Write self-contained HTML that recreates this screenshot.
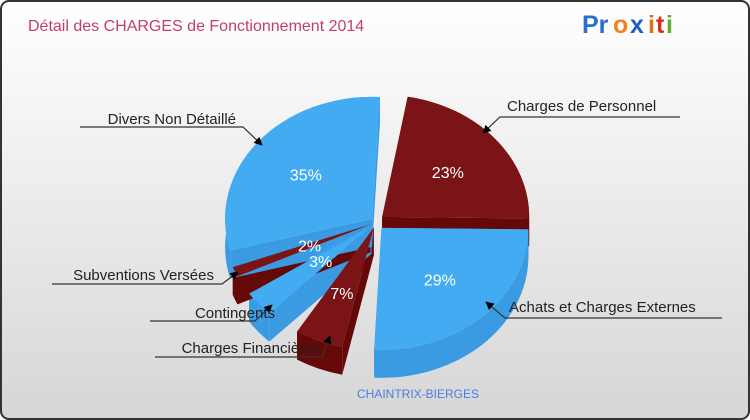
<!DOCTYPE html>
<html><head><meta charset="utf-8">
<style>
html,body{margin:0;padding:0;width:750px;height:420px;overflow:hidden;background:#fff;}
svg{display:block;font-family:"Liberation Sans",sans-serif;}
</style></head>
<body>
<svg id="chart" width="750" height="420" viewBox="0 0 750 420">
<defs>
<linearGradient id="bg" x1="0" y1="0" x2="0" y2="1">
<stop offset="0" stop-color="#ffffff"/><stop offset="1" stop-color="#d6d6d6"/>
</linearGradient>
<marker id="arr" viewBox="0 0 10 10" refX="9" refY="5" markerWidth="7" markerHeight="7" orient="auto-start-reverse">
<path d="M0,0 L10,5 L0,10 z" fill="#000"/>
</marker>
</defs>
<rect x="1" y="1" width="748" height="418" rx="8" fill="url(#bg)" stroke="#333" stroke-width="2"/>
<text x="28" y="31" font-size="16" fill="#c0406a">Détail des CHARGES de Fonctionnement 2014</text>
<g font-size="25" font-weight="bold">
<text x="582" y="33" fill="#2a6fc9">Pr</text><text x="613" y="33" fill="#f08020">o</text><text x="630" y="33" fill="#1d5fc0">x</text><text x="648" y="33" fill="#e07010">i</text><text x="656" y="33" fill="#d03020">t</text><text x="666" y="33" fill="#60b030">i</text>
</g>
<g id="slices"></g>
<g id="labels"></g>
<text x="418" y="398" font-size="12" fill="#4a7de0" text-anchor="middle">CHAINTRIX-BIERGES</text>
</svg>
<script>
const categories = ["Charges de Personnel","Achats et Charges Externes","Charges Financières","Contingents","Subventions Versées","Divers Non Détaillé"];
const values = [23, 29, 7, 3, 2, 35];
const pctLabels = ["23%","29%","7%","3%","2%","35%"];
const colorKinds = ["red","blue","red","blue","red","blue"];

// perspective warp: fraction of circle -> screen angle (degrees)
const warpF = [0, 0.23, 0.52, 0.59, 0.62, 0.64, 1];
const warpA = [-80, 0, 90, 128, 143, 163, 273];
const shrink = [1, 1, 0.5, 0.67, 0.3, 1];
function warp(f){
  for(let k=1;k<warpF.length;k++){ if(f<=warpF[k]+1e-9){ const t=(f-warpF[k-1])/(warpF[k]-warpF[k-1]); return warpA[k-1]+t*(warpA[k]-warpA[k-1]); } }
  return warpA[warpA.length-1];
}
const cx = 376, cy = 222, rx = 147, ry = 122, depth = 28;
const explode = [8, 8, 6, 6, 6, 5];
const colors = {red:{top:"#7a1416",side:"#650808"}, blue:{top:"#42abf2",side:"#3a9be2"}};
const total = values.reduce((a,b)=>a+b,0);
const ns = "http://www.w3.org/2000/svg";
const gS = document.getElementById("slices");
const gL = document.getElementById("labels");
function rad(d){return d*Math.PI/180;}
function pt(x0,y0,a){return [x0+rx*Math.cos(rad(a)), y0+ry*Math.sin(rad(a))];}
const sides = [], tops = [], texts = [];
let cum = 0;
values.forEach((v,i)=>{
  const w0a = warp(cum/total), w1a = warp((cum+v)/total);
  cum += v;
  const mid = (w0a+w1a)/2, sweep = (w1a-w0a)*shrink[i];
  const a0 = mid - sweep/2, a1 = mid + sweep/2;
  const ox = cx + explode[i]*Math.cos(rad(mid)), oy = cy + explode[i]*Math.sin(rad(mid));
  const p0 = pt(ox,oy,a0), p1 = pt(ox,oy,a1);
  const large = sweep>180?1:0;
  const c = colors[colorKinds[i]];
  const sd = `M${p0[0]},${p0[1]} A${rx},${ry} 0 ${large} 1 ${p1[0]},${p1[1]} L${p1[0]},${p1[1]+depth} A${rx},${ry} 0 ${large} 0 ${p0[0]},${p0[1]+depth} Z`;
  const w0 = `M${ox},${oy} L${p0[0]},${p0[1]} L${p0[0]},${p0[1]+depth} L${ox},${oy+depth} Z`;
  const w1 = `M${ox},${oy} L${p1[0]},${p1[1]} L${p1[0]},${p1[1]+depth} L${ox},${oy+depth} Z`;
  sides.push({d:[sd,w0,w1],fill:c.side,i});
  tops.push({d:`M${ox},${oy} L${p0[0]},${p0[1]} A${rx},${ry} 0 ${large} 1 ${p1[0]},${p1[1]} Z`,fill:c.top,i});
  const lr = sweep<15?0.45:0.58;
  texts.push({x:ox+rx*lr*Math.cos(rad(mid)), y:oy+ry*lr*Math.sin(rad(mid))+6, t:pctLabels[i], i});
});
sides.forEach(o=>{o.d.forEach(d=>{
  const p=document.createElementNS(ns,"path");p.setAttribute("d",d);p.setAttribute("fill",o.fill);
  
  
  gS.appendChild(p);});});
tops.forEach(o=>{
  const p=document.createElementNS(ns,"path");p.setAttribute("d",o.d);p.setAttribute("fill",o.fill);
  
  
  gS.appendChild(p);});
texts.forEach(o=>{
  const t=document.createElementNS(ns,"text");t.setAttribute("x",o.x);t.setAttribute("y",o.y);
  t.setAttribute("text-anchor","middle");t.setAttribute("font-size","16");t.setAttribute("fill","#fff");
  t.textContent=o.t;
  
  
  gS.appendChild(t);});

const callouts = [
  {tx:507,ty:111,anchor:"start",line:[[680,117],[500,117],[483,133]]},
  {tx:509,ty:312,anchor:"start",line:[[722,318],[505,318],[486,302]]},
  {tx:320,ty:353,anchor:"end",line:[[155,357],[322,357],[330,336]]},
  {tx:275,ty:318,anchor:"end",line:[[150,321],[255,321],[272,305]]},
  {tx:214,ty:280,anchor:"end",line:[[52,284],[222,284],[238,272]]},
  {tx:236,ty:124,anchor:"end",line:[[80,127],[243,127],[262,145]]}
];
categories.forEach((name,i)=>{
  const c=callouts[i];
  const pl=document.createElementNS(ns,"polyline");
  pl.setAttribute("points",c.line.map(p=>p.join(",")).join(" "));
  pl.setAttribute("fill","none");pl.setAttribute("stroke","#333");pl.setAttribute("stroke-width","1.2");
  pl.setAttribute("marker-end","url(#arr)");
  
  
  gL.appendChild(pl);
  const t=document.createElementNS(ns,"text");
  t.setAttribute("x",c.tx);t.setAttribute("y",c.ty);t.setAttribute("text-anchor",c.anchor);
  t.setAttribute("font-size","15");t.setAttribute("fill","#222");t.textContent=name;
  
  
  gL.appendChild(t);
});
</script>
</body></html>
